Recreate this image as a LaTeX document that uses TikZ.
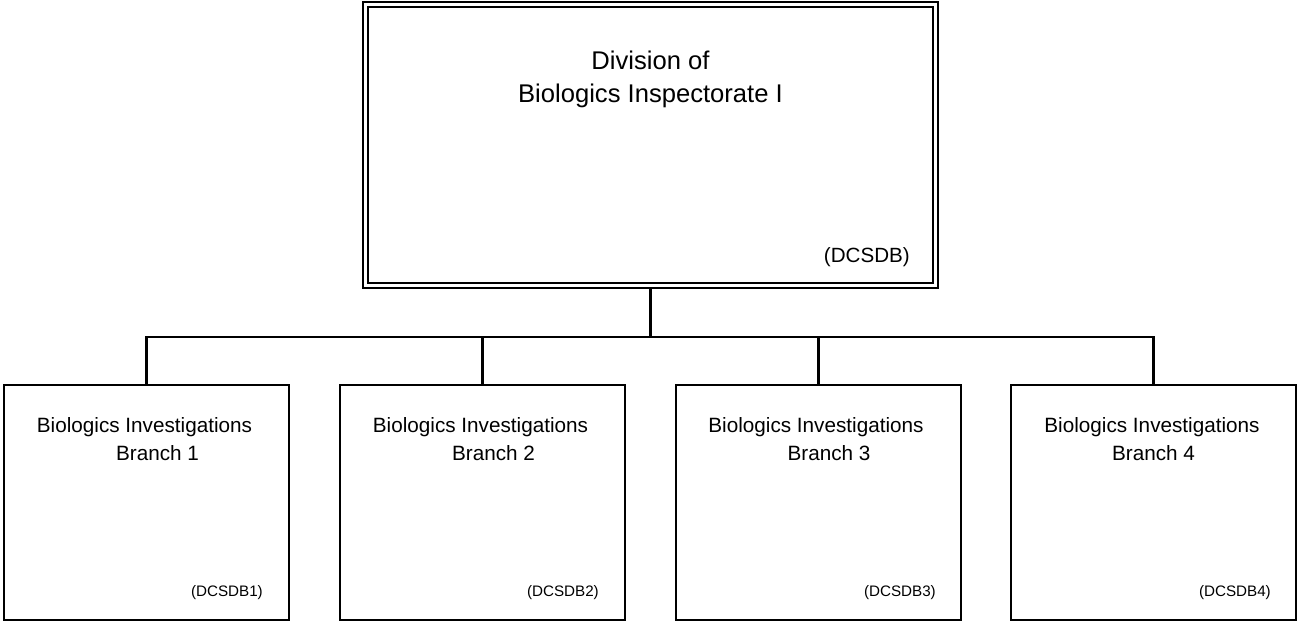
\documentclass[tikz,border=0pt]{standalone}
\usepackage{fontspec}
\setmainfont{Liberation Sans}
\begin{document}
\begin{tikzpicture}[x=1pt,y=1pt,
  topbox/.style={draw, double, line width=2.2pt, double distance=2.8pt, minimum width=570pt, minimum height=281pt, inner sep=0pt, outer sep=3.6pt},
  subbox/.style={draw, line width=2.6pt, minimum width=285pt, minimum height=235pt, inner sep=0pt, outer sep=1.3pt},
  bigtext/.style={inner sep=0pt, anchor=base, font=\fontsize{25.6}{30}\selectfont},
  midtext/.style={inner sep=0pt, anchor=base, font=\fontsize{20.7}{25}\selectfont},
  codebig/.style={inner sep=0pt, anchor=base east, font=\fontsize{20.6}{25}\selectfont},
  codesmall/.style={inner sep=0pt, anchor=base east, font=\fontsize{15.2}{18}\selectfont},
  conn/.style={line width=2.3pt}
]
\useasboundingbox (0,0) rectangle (1297,624);
% top box
\node[topbox] (top) at (650.5,479) {};
\node[bigtext] (t1) at (650.5,554) {Division of};
\node[bigtext] (t2) at (650.5,521) {Biologics Inspectorate I};
\node[codebig] (tc) at (910,361) {(DCSDB)};
% branch boxes
\node[subbox] (b1) at (146.5,121.5) {};
\node[subbox] (b2) at (482.5,121.5) {};
\node[subbox] (b3) at (818.5,121.5) {};
\node[subbox] (b4) at (1153.5,121.5) {};
\node[midtext] (b1a) at (144.5,192) {Biologics Investigations};
\node[midtext] (b1b) at (157.5,164) {Branch 1};
\node[midtext] (b2a) at (480.5,192) {Biologics Investigations};
\node[midtext] (b2b) at (493.5,164) {Branch 2};
\node[midtext] (b3a) at (816,192) {Biologics Investigations};
\node[midtext] (b3b) at (829,164) {Branch 3};
\node[midtext] (b4a) at (1152,192) {Biologics Investigations};
\node[midtext] (b4b) at (1153.5,164) {Branch 4};
\node[codesmall] (c1) at (263,28) {(DCSDB1)};
\node[codesmall] (c2) at (599,28) {(DCSDB2)};
\node[codesmall] (c3) at (936,28) {(DCSDB3)};
\node[codesmall] (c4) at (1271,28) {(DCSDB4)};
% connectors
\coordinate (bus) at (650.5,287);
\draw[conn] (top.south) -- (bus);
\draw[conn] (b1.north) -- (b1.north |- bus) -- (b4.north |- bus) -- (b4.north);
\draw[conn] (b2.north) -- (b2.north |- bus);
\draw[conn] (b3.north) -- (b3.north |- bus);
\end{tikzpicture}
\end{document}
